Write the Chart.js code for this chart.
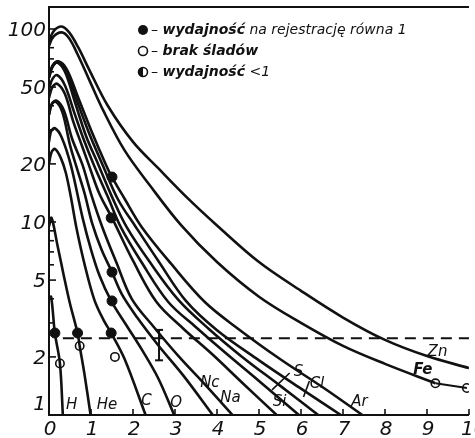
<!DOCTYPE html>
<html>
<head>
<meta charset="utf-8">
<script src="https://cdn.jsdelivr.net/npm/chart.js@4"></script>
<style>
  html, body { margin: 0; padding: 0; background: #fff; }
  #wrap { width: 475px; height: 438px; }
</style>
</head>
<body>
<div id="wrap"><canvas id="chart" width="475" height="438"></canvas></div>
<script>
// Curves (x, value)
const hX  = [0, 0.05, 0.14, 0.26, 0.33];
const hY  = [4.0, 4.1, 2.66, 1.85, 1.0];
const heX = [0, 0.06, 0.2, 0.35, 0.49, 0.68, 0.73, 0.85, 0.99];
const heY = [9.5, 10.5, 7.6, 5.3, 3.85, 2.66, 2.28, 1.6, 1.0];
const cX  = [0, 0.06, 0.14, 0.28, 0.4, 0.52, 0.65, 0.85, 1.08, 1.3, 1.48, 1.8, 2.3];
const cY  = [20, 23, 23.9, 21.5, 18, 13.5, 9.4, 6.0, 3.95, 3.1, 2.66, 1.95, 1.0];
const oX  = [0, 0.05, 0.14, 0.3, 0.52, 0.8, 1.0, 1.2, 1.48, 1.85, 2.2, 2.6, 2.98];
const oY  = [26, 29.5, 30.6, 27.5, 19.7, 10.5, 7.2, 5.3, 3.9, 2.9, 2.2, 1.55, 1.0];
const neX = [0, 0.06, 0.16, 0.32, 0.5, 0.68, 0.85, 1.03, 1.25, 1.5, 1.74, 2.1, 2.6, 3.2, 3.9];
const neY = [36, 40.5, 42, 37, 25, 18.5, 14, 9.8, 7.2, 5.5, 4.2, 3.2, 2.3, 1.6, 1.0];
const naX = [0, 0.07, 0.18, 0.35, 0.55, 0.8, 1.0, 1.27, 1.6, 1.97, 2.5, 3.1, 3.7, 4.37];
const naY = [36, 41, 42.5, 38, 27, 19.7, 14, 9.4, 6.2, 4.0, 2.85, 2.0, 1.45, 1.0];
const siX = [0, 0.08, 0.2, 0.38, 0.58, 0.78, 0.95, 1.2, 1.5, 2.0, 2.56, 3.2, 3.9, 4.6, 5.42];
const siY = [44, 50, 52, 46, 33, 25, 19.7, 14, 10.5, 6.3, 3.85, 2.8, 2.05, 1.47, 1.0];
const sX  = [0, 0.08, 0.2, 0.38, 0.6, 0.82, 1.07, 1.4, 1.71, 2.2, 2.84, 3.5, 4.2, 5.0, 5.95];
const sY  = [49, 55, 57.6, 51, 37, 27, 19.7, 13.5, 9.4, 6.2, 3.85, 2.85, 2.1, 1.5, 1.0];
const clX = [0, 0.08, 0.2, 0.38, 0.6, 0.88, 1.18, 1.5, 1.85, 2.4, 3.08, 3.8, 4.6, 5.5, 6.41];
const clY = [56, 64, 67, 60, 43, 28, 19.7, 13.5, 9.4, 6.2, 3.95, 2.8, 2.0, 1.42, 1.0];
const arX = [0, 0.09, 0.22, 0.4, 0.64, 0.95, 1.28, 1.65, 2.07, 2.6, 3.26, 4.0, 5.0, 6.0, 6.95];
const arY = [56, 64, 67.5, 61, 44, 29, 19.7, 13, 9.4, 6.3, 3.9, 2.75, 1.92, 1.37, 1.0];
const c9X = [0, 0.09, 0.22, 0.42, 0.68, 1.0, 1.36, 1.5, 1.8, 2.21, 2.9, 3.71, 4.5, 5.5, 6.5, 7.46];
const c9Y = [57, 65, 68, 62, 45, 30, 19.7, 17.1, 13.2, 9.4, 6.1, 3.85, 2.8, 1.95, 1.4, 1.0];
const feX = [0, 0.1, 0.3, 0.47, 0.68, 0.95, 1.3, 1.8, 2.4, 3.15, 4.0, 5.0, 6.0, 7.0, 8.0, 9.2];
const feY = [82, 91, 96, 90, 74, 55, 37.5, 23.5, 15.5, 9.6, 6.2, 4.1, 3.0, 2.28, 1.84, 1.46];
const znX = [0, 0.12, 0.3, 0.48, 0.7, 0.95, 1.4, 2.0, 2.6, 3.3, 4.0, 5.0, 6.0, 7.0, 8.0, 9.0, 10];
const znY = [87, 98, 103, 96, 80, 62, 40, 26, 19, 13.3, 9.6, 6.2, 4.4, 3.2, 2.45, 2.02, 1.75];

// Fe tail between the two open circles
const feTailX = [9.2, 9.95];
const feTailY = [1.46, 1.38];

// Markers
const fullX = [0.14, 0.68, 1.48, 1.5, 1.5, 1.48, 1.5];
const fullY = [2.66, 2.66, 2.66, 3.9, 5.5, 10.5, 17.1];
const openX = [0.26, 0.73, 1.57, 9.2, 9.95];
const openY = [1.85, 2.28, 2.0, 1.46, 1.38];

// Threshold and error bar
const threshold = 2.5;
const thresholdFrom = 0.33;
const errX = 2.62;
const errLow = 1.92;
const errHigh = 2.76;

// Labels
const labelText = ['H', 'He', 'C', 'O', 'Nc', 'Na', 'Si', 'S', 'Cl', 'Ar', 'Fe', 'Zn'];
const labelX = [0.54, 1.38, 2.32, 3.03, 3.83, 4.32, 5.49, 5.94, 6.38, 7.39, 8.9, 9.25];
const labelY = [1.13, 1.13, 1.18, 1.15, 1.46, 1.22, 1.17, 1.67, 1.45, 1.17, 1.71, 2.12];

// Axis ticks
const xTicks = [0, 1, 2, 3, 4, 5, 6, 7, 8, 9, 10];
const yTickLabels = [1, 2, 5, 10, 20, 50, 100];
const yMinor = [3, 4, 6, 7, 8, 9, 30, 40, 60, 70, 80, 90];

const ink = '#111';
const toPts = (xs, ys) => xs.map((x, i) => ({ x: x, y: ys[i] }));

const curves = [
    [hX, hY], [heX, heY], [cX, cY], [oX, oY], [neX, neY], [naX, naY],
    [siX, siY], [sX, sY], [clX, clY], [arX, arY], [c9X, c9Y], [feX, feY], [znX, znY]
];

const datasets = curves.map(([xs, ys]) => ({
    type: 'line',
    data: toPts(xs, ys),
    borderColor: ink,
    borderWidth: 2.6,
    pointRadius: 0,
    tension: 0.35,
    fill: false
}));

datasets.push({
    type: 'line',
    data: toPts(feTailX, feTailY),
    borderColor: ink,
    borderWidth: 2,
    pointRadius: 0,
    tension: 0
});

datasets.push({
    type: 'line',
    data: [{ x: thresholdFrom, y: threshold }, { x: 10, y: threshold }],
    borderColor: ink,
    borderWidth: 2,
    borderDash: [11, 7],
    pointRadius: 0
});

datasets.push({
    type: 'line',
    data: [{ x: errX, y: errHigh }, { x: errX, y: errLow }],
    borderColor: ink,
    borderWidth: 2,
    pointStyle: 'line',
    pointRadius: 4,
    pointBorderWidth: 2,
    pointBorderColor: ink
});

datasets.push({
    type: 'scatter',
    data: toPts(fullX, fullY),
    backgroundColor: ink,
    borderColor: ink,
    pointRadius: 5
});

datasets.push({
    type: 'scatter',
    data: toPts(openX, openY),
    backgroundColor: '#fff',
    borderColor: ink,
    borderWidth: 1.6,
    pointRadius: 4.2
});

// Frame, ticks, tick labels, curve labels and legend
const paperPlugin = {
    id: 'paper',
    beforeDatasetsDraw(chart) {
        const { ctx, chartArea: a, scales: { x, y } } = chart;
        ctx.save();
        ctx.strokeStyle = ink;
        ctx.lineWidth = 2;
        ctx.beginPath();
        ctx.moveTo(a.right, a.top);
        ctx.lineTo(a.left, a.top);
        ctx.lineTo(a.left, a.bottom);
        ctx.lineTo(a.right, a.bottom);
        ctx.stroke();

        ctx.lineWidth = 1.6;
        xTicks.forEach(t => {
            const px = x.getPixelForValue(t);
            ctx.beginPath();
            ctx.moveTo(px, a.bottom);
            ctx.lineTo(px, a.bottom - 6);
            ctx.stroke();
        });
        yTickLabels.forEach(t => {
            const py = y.getPixelForValue(t);
            ctx.beginPath();
            ctx.moveTo(a.left, py);
            ctx.lineTo(a.left + 7, py);
            ctx.stroke();
        });
        yMinor.forEach(t => {
            const py = y.getPixelForValue(t);
            ctx.beginPath();
            ctx.moveTo(a.left, py);
            ctx.lineTo(a.left + 5, py);
            ctx.stroke();
        });

        ctx.fillStyle = ink;
        ctx.font = "italic 20px 'DejaVu Sans'";
        ctx.textBaseline = 'middle';
        xTicks.forEach(t => {
            const px = x.getPixelForValue(t);
            if (t === 10) {
                ctx.textAlign = 'left';
                ctx.fillText(String(t), px - 8, a.bottom + 15);
            } else {
                ctx.textAlign = 'center';
                ctx.fillText(String(t), px + 1, a.bottom + 15);
            }
        });
        ctx.textAlign = 'right';
        yTickLabels.forEach(t => {
            let py = y.getPixelForValue(t) + 2;
            if (t === 1) py -= 12;
            ctx.fillText(String(t), a.left - 3, py);
        });
        ctx.restore();
    },
    afterDatasetsDraw(chart) {
        const { ctx, scales: { x, y } } = chart;
        ctx.save();
        ctx.fillStyle = ink;
        ctx.strokeStyle = ink;
        ctx.textAlign = 'center';
        ctx.textBaseline = 'middle';
        labelText.forEach((t, i) => {
            ctx.font = (t === 'Fe' ? 'bold ' : '') + "italic 15px 'DejaVu Sans'";
            ctx.fillText(t, x.getPixelForValue(labelX[i]), y.getPixelForValue(labelY[i]));
        });

        // leader lines for S and Cl
        ctx.lineWidth = 1.6;
        [[5.73, 1.65, 5.31, 1.35], [6.2, 1.5, 6.06, 1.24]].forEach(([x1, y1, x2, y2]) => {
            ctx.beginPath();
            ctx.moveTo(x.getPixelForValue(x1), y.getPixelForValue(y1));
            ctx.lineTo(x.getPixelForValue(x2), y.getPixelForValue(y2));
            ctx.stroke();
        });

        // legend
        const lx = 143;
        const rows = [30, 51, 72];
        ctx.beginPath();
        ctx.arc(lx, rows[0], 5, 0, Math.PI * 2);
        ctx.fill();
        ctx.beginPath();
        ctx.lineWidth = 1.6;
        ctx.arc(lx, rows[1], 4.5, 0, Math.PI * 2);
        ctx.stroke();
        ctx.beginPath();
        ctx.arc(lx, rows[2], 4.5, 0, Math.PI * 2);
        ctx.stroke();
        ctx.beginPath();
        ctx.arc(lx, rows[2], 4.5, Math.PI / 2, Math.PI * 1.5);
        ctx.fill();

        ctx.textAlign = 'left';
        const legendLines = [
            ['– ', 'wydajność', ' na rejestrację równa 1'],
            ['– ', 'brak śladów', ''],
            ['– ', 'wydajność', ' <1']
        ];
        legendLines.forEach((parts, i) => {
            let px = lx + 8;
            parts.forEach((p, j) => {
                ctx.font = (j === 1 ? 'bold ' : '') + "italic 14px 'DejaVu Sans'";
                ctx.fillText(p, px, rows[i]);
                px += ctx.measureText(p).width;
            });
        });
        ctx.restore();
    }
};

new Chart(document.getElementById('chart'), {
    data: { datasets: datasets },
    options: {
        responsive: false,
        devicePixelRatio: 1,
        animation: false,
        layout: { padding: { left: 49, right: 0, top: 7, bottom: 23 } },
        plugins: {
            legend: { display: false },
            tooltip: { enabled: false }
        },
        scales: {
            x: { type: 'linear', min: 0, max: 10, display: false },
            y: { type: 'logarithmic', min: 1, max: 130, display: false }
        }
    },
    plugins: [paperPlugin]
});
</script>
</body>
</html>
